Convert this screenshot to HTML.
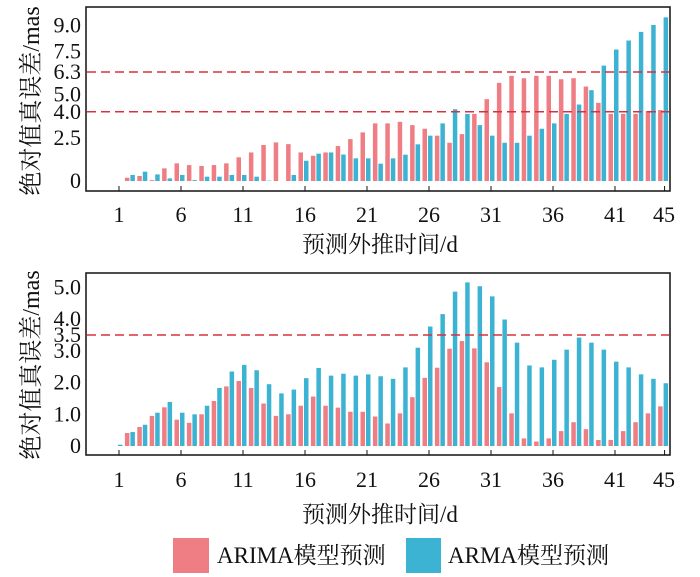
<!DOCTYPE html>
<html><head><meta charset="utf-8"><style>
html,body{margin:0;padding:0;background:#fff;}
svg{display:block;font-family:"Liberation Serif","Noto Serif CJK SC",serif;}
</style></head><body>
<svg id="c" width="700" height="577" viewBox="0 0 700 577"></svg>
<script>
const days = Array.from({length:45},(_,i)=>i+1);
const xTicks = [1,6,11,16,21,26,31,36,41,45];
const topArima = [0,0.19,0.29,0.05,0.73,1.02,0.92,0.87,0.92,1.02,1.37,1.65,2.08,2.23,2.13,1.65,1.46,1.65,2.02,2.42,2.81,3.33,3.33,3.42,3.23,3.02,2.62,2.21,2.71,3.88,4.73,5.67,6.08,5.94,6.08,6.08,5.88,5.94,5.46,4.52,3.88,3.88,3.88,4.04,4.1];
const topArma = [0,0.35,0.54,0.38,0.15,0.35,0.05,0.25,0.25,0.35,0.35,0.25,0.02,0,0.35,1.17,1.58,1.65,1.53,1.31,1.31,1.0,1.31,1.52,2.12,2.62,3.33,4.15,3.88,3.23,2.62,2.21,2.21,2.62,3.02,3.33,3.88,4.42,5.25,6.67,7.6,8.12,8.62,9.02,9.46];
const topYTicks = [0,2.5,4.0,5.0,6.3,7.5,9.0];
const topRefLines = [6.3,4.0];
const botArima = [0,0.41,0.6,0.95,1.22,0.83,0.73,1.0,1.42,1.88,2.05,1.83,1.34,0.95,1.0,1.27,1.56,1.27,1.21,1.08,1.08,0.93,0.71,1.03,1.54,2.15,2.47,3.07,3.31,3.08,2.64,1.86,1.03,0.24,0.14,0.24,0.47,0.75,0.53,0.19,0.19,0.47,0.75,1.03,1.25];
const botArma = [0.04,0.44,0.67,1.05,1.39,1.05,1.0,1.27,1.83,2.35,2.56,2.39,1.95,1.66,1.78,2.14,2.46,2.22,2.28,2.22,2.26,2.2,2.12,2.48,3.1,3.77,4.16,4.87,5.16,5.04,4.72,3.99,3.26,2.54,2.48,2.72,3.04,3.42,3.26,3.04,2.66,2.48,2.26,2.12,1.98];
const botYTicks = [0,1.0,2.0,3.0,3.5,4.0,5.0];
const botRefLines = [3.5];

const NS="http://www.w3.org/2000/svg";
const svg=document.getElementById('c');
function mk(tag,attrs,parent){const e=document.createElementNS(NS,tag);for(const k in attrs)e.setAttribute(k,attrs[k]);(parent||svg).appendChild(e);return e;}
const PINK="#ee7d84", BLUE="#3db3d3";
const xScale = d => 119 + (d-1)*12.4;

function panel(name, frame, y0, pxPerUnit, arima, arma, yTicks, refs, tickY, titleY, ylabelY){
  const g=mk('g',{});
  
  
  const yS = v => y0 - v*pxPerUnit;
  days.forEach((d,i)=>{
    const r1=mk('rect',{x:xScale(d)-6.5,y:yS(arima[i]),width:4.5,height:Math.max(0,arima[i]*pxPerUnit),fill:PINK},g);
    
    
    const r2=mk('rect',{x:xScale(d)-1,y:yS(arma[i]),width:4.5,height:Math.max(0,arma[i]*pxPerUnit),fill:BLUE},g);
    
    
  });
  refs.forEach(v=>{
    const l=mk('line',{x1:87,x2:669,y1:yS(v),y2:yS(v),stroke:"#d9303c","stroke-width":1.5,"stroke-dasharray":"9,5"},g);
    
    
  });
  const f=mk('rect',{x:86,y:frame[0],width:584,height:frame[1]-frame[0],fill:"none",stroke:"#111","stroke-width":1.5},g);
  
  
  yTicks.forEach(v=>{
    const t=mk('text',{x:81,y:yS(v)+7,"text-anchor":"end","font-size":22,fill:"#111"},g);
    t.textContent = v===0 ? "0" : v.toFixed(1);
    
    
  });
  xTicks.forEach(d=>{
    const tm=mk('line',{x1:xScale(d),x2:xScale(d),y1:frame[1],y2:frame[1]-5,stroke:"#111","stroke-width":1},g);
    
    
    const t=mk('text',{x:d===45?664:xScale(d),y:tickY,"text-anchor":"middle","font-size":22,fill:"#111"},g);
    t.textContent=d;
    
    
  });
  const xt=mk('text',{x:380,y:titleY,"text-anchor":"middle","font-size":23,fill:"#111"},g);
  xt.textContent="预测外推时间/d";
  
  
  const yt=mk('text',{x:0,y:0,"text-anchor":"middle","font-size":24,fill:"#111",transform:`translate(39,${ylabelY}) rotate(-90)`},g);
  yt.textContent="绝对值真误差/mas";
  
  
}
panel('top-panel',[7,191],181,17.3,topArima,topArma,topYTicks,topRefLines,222,252,101);
panel('bottom-panel',[273,455],446,31.7,botArima,botArma,botYTicks,botRefLines,487,522,365);

const lg=mk('g',{});


const s1=mk('rect',{x:173,y:538,width:36,height:35,fill:PINK},lg);


const t1=mk('text',{x:217,y:563,"font-size":23,fill:"#111"},lg);
t1.textContent="ARIMA模型预测";


const s2=mk('rect',{x:406,y:538,width:35,height:35,fill:BLUE},lg);


const t2=mk('text',{x:448,y:563,"font-size":23,fill:"#111"},lg);
t2.textContent="ARMA模型预测";


</script>
</body></html>
